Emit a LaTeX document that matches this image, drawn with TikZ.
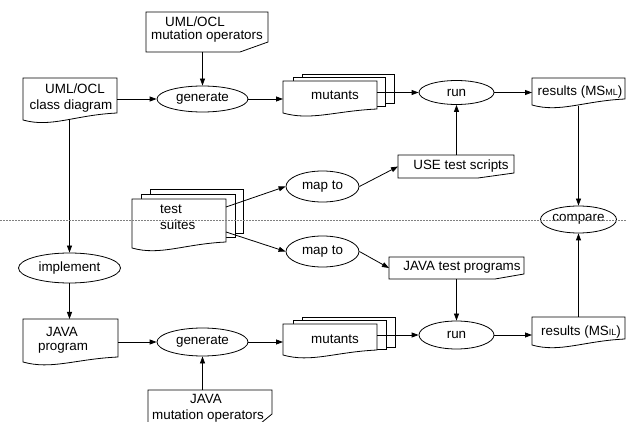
\documentclass[tikz,border=0pt]{standalone}
\usepackage{fontspec}
\setmainfont{Liberation Sans}
\usetikzlibrary{shapes.geometric,arrows.meta,calc}
\newcommand\wavebox[5]{\filldraw[outl,fill=white] (#1,#2) -- (#3,#2) -- (#3,#5) .. controls ({#1+0.55*(#3-#1)},{#5+2}) and ({#1+0.3*(#3-#1)},{#4+8}) .. (#1,#4) -- cycle;}
\newcommand\cutbox[6]{\filldraw[outl,fill=white] (#1,#2) -- (#3,#2) -- (#3,#6) -- (#5,#4) -- (#1,#4) -- cycle;}
\newcommand\plainbox[4]{\filldraw[outl,fill=white] (#1,#2) rectangle (#3,#4);}
\begin{document}
\begin{tikzpicture}[x=1pt,y=-1pt,
  outl/.style={draw=black,line width=0.8pt},
  arr/.style={outl,-{Triangle[length=7pt,width=5pt]}},
  proc/.style n args={2}{ellipse,outl,inner sep=0pt,minimum width=#1,minimum height=#2,font=\fontsize{13.4}{16}\selectfont},
  area/.style n args={2}{draw=none,inner sep=0pt,outer sep=0pt,minimum width=#1,minimum height=#2},
  txt/.style={inner sep=0pt,anchor=base,font=\fontsize{13.4}{16}\selectfont},
  dotline/.style={draw=gray,line width=0.8pt,dash pattern=on 1.6pt off 1.4pt}]
\useasboundingbox (0,0) rectangle (627,422);
\clip (0,0) rectangle (627,422);
% boxes
\cutbox{146}{12}{268}{52}{240}{42}
\node[area={122pt}{40pt}] (umlops) at (207,32) {};
\wavebox{23}{78}{117}{120}{113}
\node[area={94pt}{42pt}] (cd) at (70,99) {};
\plainbox{302}{74}{394}{103}
\plainbox{293}{77}{385}{106}
\wavebox{283}{81}{377}{113}{109}
\node[area={94pt}{28pt}] (mut1) at (330,95) {};
\wavebox{532}{78}{625}{105}{99}
\node[area={93pt}{28pt}] (res1) at (578.5,92) {};
\cutbox{398}{155}{514}{178}{478}{173}
\node[area={116pt}{23pt}] (uts) at (456,166.5) {};
\plainbox{150}{189}{243}{233}
\plainbox{141}{194}{235}{237}
\wavebox{132}{199}{226}{248}{242}
\node[area={94pt}{43pt}] (ts) at (179,220.5) {};
\cutbox{389}{257}{524}{279}{495}{274}
\node[area={135pt}{22pt}] (jtp) at (456.5,268) {};
\wavebox{532}{317}{625}{345}{339}
\node[area={93pt}{28pt}] (res2) at (578.5,331) {};
\wavebox{23}{319}{118}{362}{357}
\node[area={95pt}{46pt}] (jp) at (70.5,342) {};
\cutbox{148}{390}{272}{428}{255}{414}
\node[area={124pt}{36pt}] (jmo) at (210,408) {};
\plainbox{302}{317}{395}{347}
\plainbox{293}{320}{386}{349}
\wavebox{283}{324}{377}{355}{350}
\node[area={94pt}{27pt}] (mut2) at (330,337.5) {};
% ellipses
\node[proc={91pt}{26pt}] (gen1) at (202.5,99) {generate};
\node[proc={75pt}{24pt}] (run1) at (456.5,92.5) {run};
\node[proc={76pt}{27pt}] (cmp) at (578.5,219.5) {compare};
\node[proc={73pt}{31pt}] (map1) at (322.5,186.5) {map to};
\node[proc={73pt}{31pt}] (map2) at (322.5,251.5) {map to};
\node[proc={75pt}{28pt}] (run2) at (456.5,335) {run};
\node[proc={102pt}{30pt}] (impl) at (69.5,268) {implement};
\node[proc={91pt}{28pt}] (gen2) at (202.5,342) {generate};
% texts
\node[txt] (tumlopsA) at (195,26.7) {UML/OCL};
\node[txt] (tumlopsB) at (207,39.3) {mutation operators};
\node[txt] (tcdA) at (75,94) {UML/OCL};
\node[txt] (tcdB) at (71,110) {class diagram};
\node[txt] (tjpA) at (62,336.7) {JAVA};
\node[txt] (tjpB) at (63,350.7) {program};
\node[txt] (tjmoA) at (206,403) {JAVA};
\node[txt] (tjmoB) at (208,419) {mutation operators};
\node[txt,anchor=base west] (ttsA) at (160,214) {test};
\node[txt,anchor=base west] (ttsB) at (160,230) {suites};
\node[txt] (tuts) at (461,170) {USE test scripts};
\node[txt] (tjtp) at (462,271) {JAVA test programs};
\node[txt] (tres1) at (580,96) {results (MS{\fontsize{9}{9}\selectfont ML})};
\node[txt] (tres2) at (581,336) {results (MS{\fontsize{9}{9}\selectfont IL})};
\node[txt] (tmut1) at (335,100) {mutants};
\node[txt] (tmut2) at (335,344) {mutants};
% connectors
\draw[arr] (cd.east) -- (gen1.west);
\draw[arr] (umlops.south -| gen1.north) -- (gen1.north);
\draw[arr] (gen1.east) -- (gen1.east -| mut1.west);
\draw[arr] (mut1.east |- run1.west) -- (run1.west);
\draw[arr] (run1.east) -- (run1.east -| res1.west);
\draw[arr] (res1.south -| cmp.north) -- (cmp.north);
\draw[arr] (uts.north -| run1.south) -- (run1.south);
\draw[arr] ([yshift=13.5pt]ts.east) -- (map1.west);
\draw[arr] ([yshift=-11.5pt]ts.east) -- (map2.west);
\draw[arr] (map1.east) -- (uts.west);
\draw[arr] (map2.east) -- (jtp.west);
\draw[arr] (jtp.south -| run2.north) -- (run2.north);
\draw[arr] (run2.east) -- (run2.east -| res2.west);
\draw[arr] (res2.north -| cmp.south) -- (cmp.south);
\draw[arr] (cd.south -| impl.north) -- (impl.north);
\draw[arr] (impl.south) -- (impl.south |- jp.north);
\draw[arr] (jp.east) -- (gen2.west);
\draw[arr] (jmo.north -| gen2.south) -- (gen2.south);
\draw[arr] (gen2.east) -- (gen2.east -| mut2.west);
\draw[arr] (mut2.east |- run2.west) -- (run2.west);
% divider
\coordinate (divL) at (0,220);
\coordinate (divR) at (627,220);
\draw[dotline] (divL) -- (divR);
\end{tikzpicture}
\end{document}
